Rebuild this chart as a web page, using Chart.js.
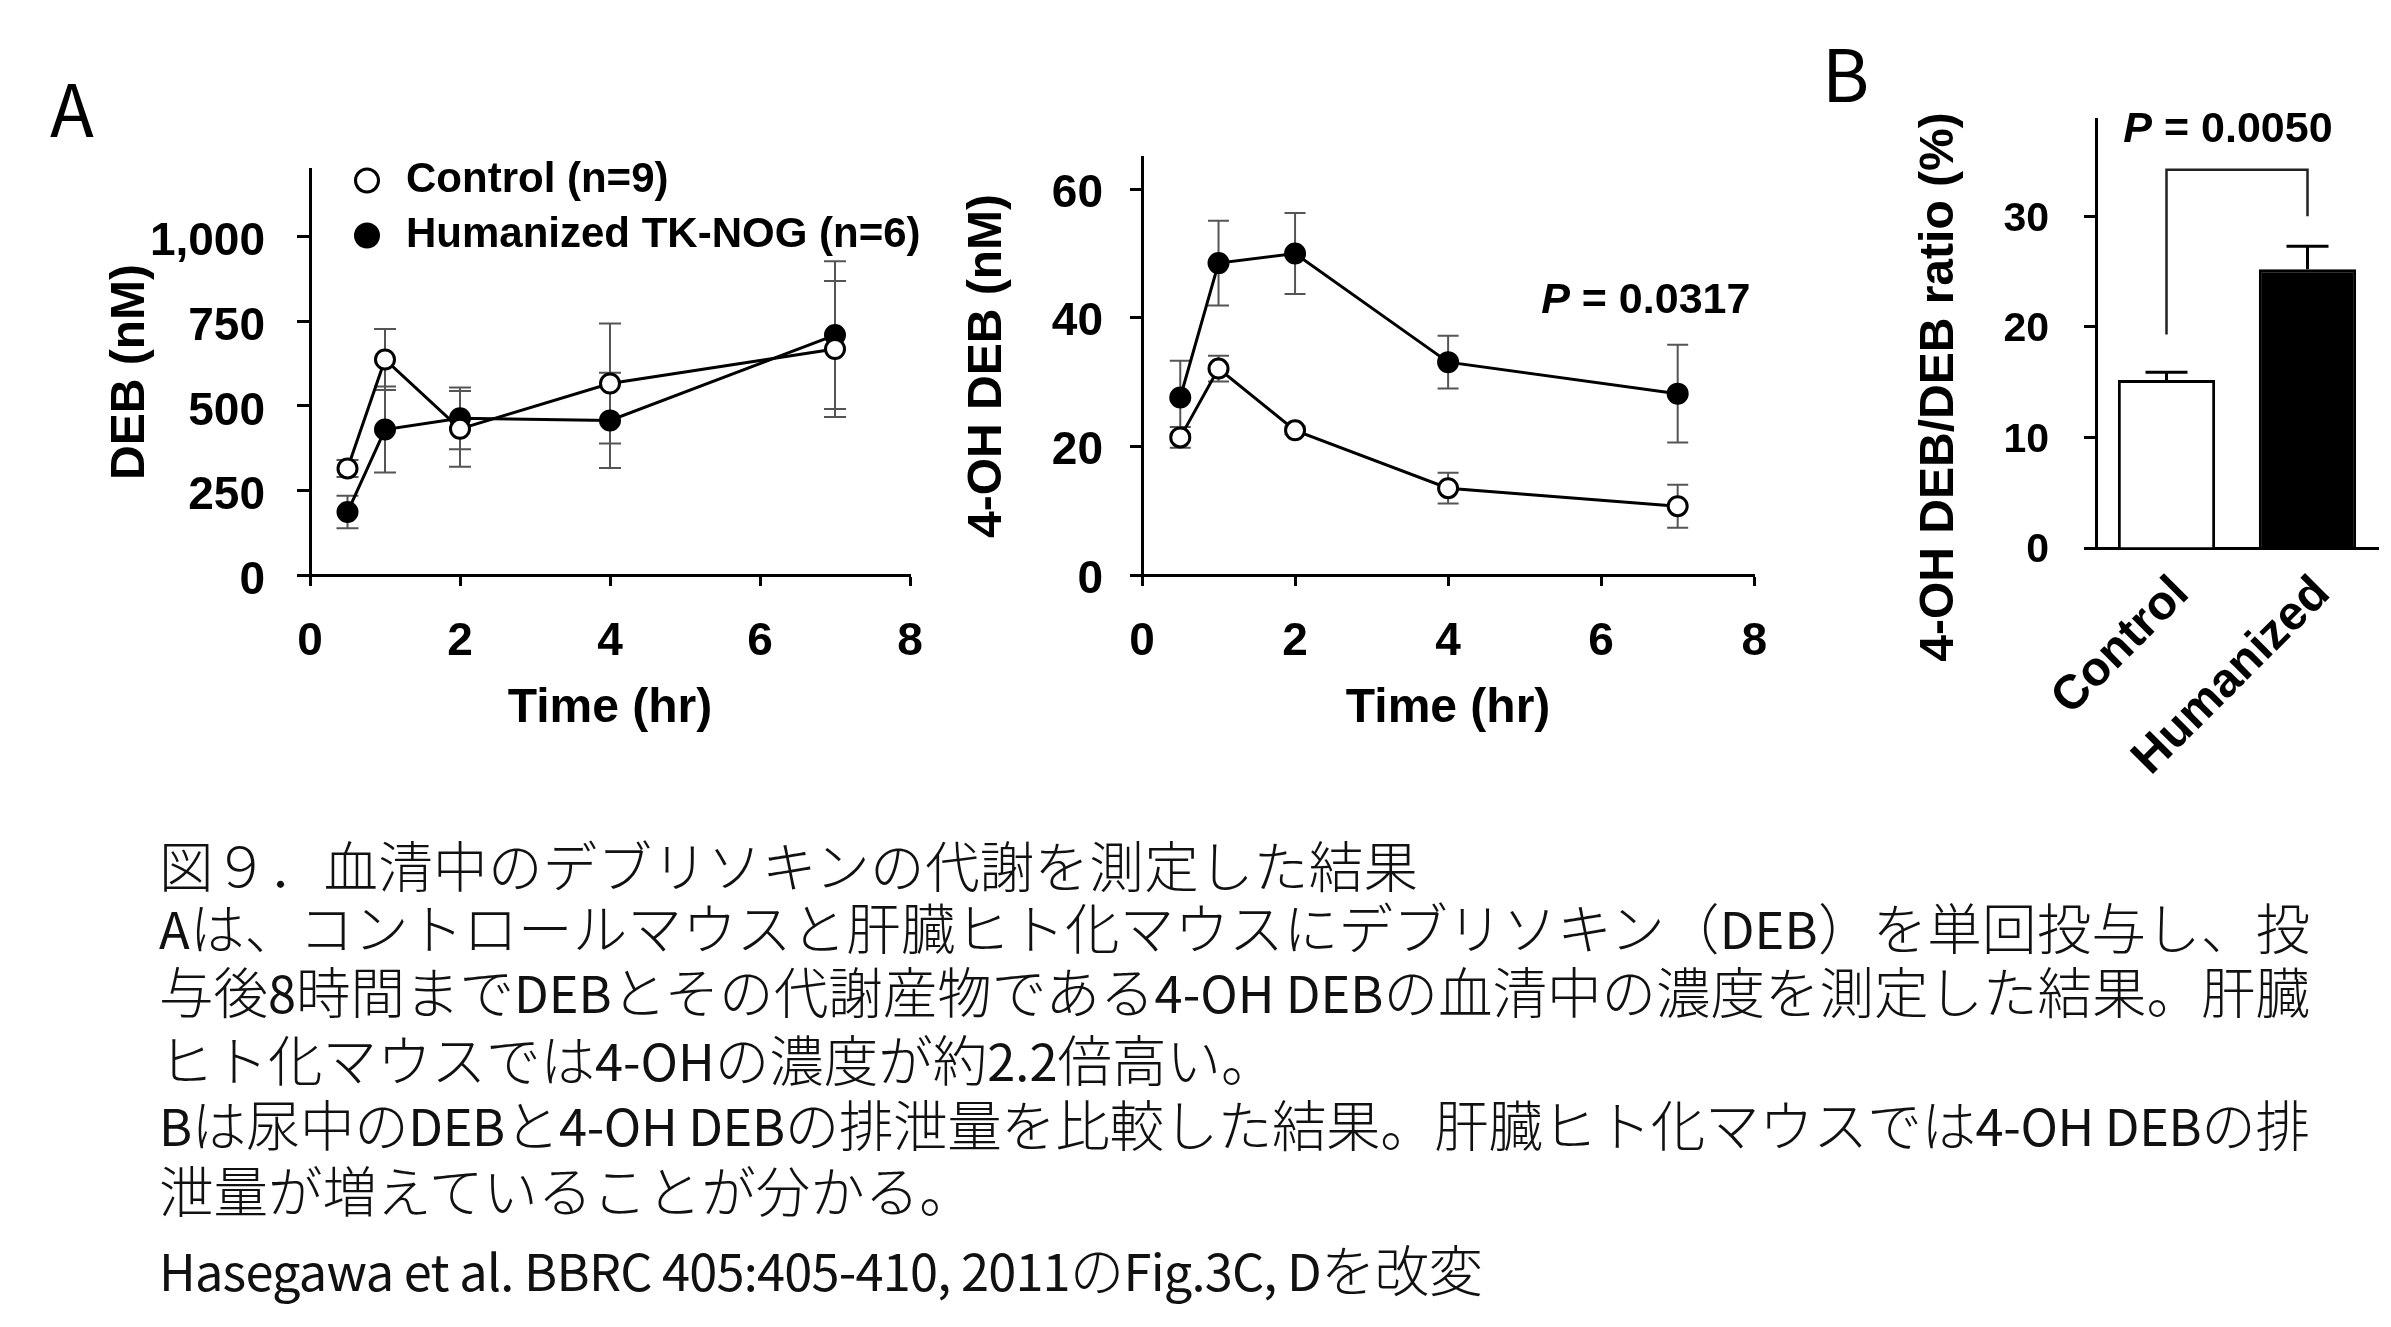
<!DOCTYPE html>
<html lang="ja">
<head>
<meta charset="utf-8">
<title>図9 血清中のデブリソキンの代謝</title>
<script src="https://cdn.jsdelivr.net/npm/chart.js@4.4.0/dist/chart.umd.min.js"></script>
<style>
html, body { margin:0; padding:0; background:#fff; }
body { width:2391px; height:1327px; position:relative; overflow:hidden; }
.panel { position:absolute; font-family:"Noto Sans CJK JP", sans-serif; font-size:72px; line-height:72px; color:#000; font-weight:400; }
.chartbox { position:absolute; }
.cap { position:absolute; left:159px; width:2220px; height:66px; line-height:66px; font-family:"Noto Sans CJK JP", sans-serif; font-size:54.5px; color:#111; white-space:nowrap; font-weight:300; }
.cap .lat { font-weight:400; font-size:50.5px; }
</style>
</head>
<body>
<div class="panel" style="left:50px; top:70px;">A</div>
<div class="panel" style="left:1822px; top:35px;">B</div>

<div class="chartbox" style="left:0px; top:90px; width:960px; height:690px;"><canvas id="c1" width="960" height="690"></canvas></div>
<div class="chartbox" style="left:940px; top:90px; width:860px; height:690px;"><canvas id="c2" width="860" height="690"></canvas></div>
<div class="chartbox" style="left:1870px; top:90px; width:521px; height:690px;"><canvas id="c3" width="521" height="690"></canvas></div>

<div class="cap" data-right="1418" style="top:831px;"><span>図９．血清中のデブリソキンの代謝を測定した結果</span></div>
<div class="cap" data-right="2310" style="top:893px;"><span>Aは、コントロールマウスと肝臓ヒト化マウスにデブリソキン（DEB）を単回投与し、投</span></div>
<div class="cap" data-right="2310" style="top:957px;"><span>与後8時間までDEBとその代謝産物である4-OH DEBの血清中の濃度を測定した結果。肝臓</span></div>
<div class="cap" style="top:1025px;"><span>ヒト化マウスでは4-OHの濃度が約2.2倍高い。</span></div>
<div class="cap" data-right="2310" style="top:1090px;"><span>Bは尿中のDEBと4-OH DEBの排泄量を比較した結果。肝臓ヒト化マウスでは4-OH DEBの排</span></div>
<div class="cap" style="top:1156px;"><span>泄量が増えていることが分かる。</span></div>
<div class="cap" data-right="1483" style="top:1235px;"><span>Hasegawa et al. BBRC 405:405-410, 2011のFig.3C, Dを改変</span></div>

<script>
// ---------------- data ----------------
const timePoints = [0.5, 1, 2, 4, 7];
const seriesLabels = ['Control (n=9)', 'Humanized TK-NOG (n=6)'];

const debControl = [315, 637, 432, 566, 668];
const debControlErr = [25, 90, 112, 177, 201];
const debHumanized = [186, 430, 463, 457, 709];
const debHumanizedErr = [48, 127, 91, 141, 218];

const ohControl = [21.4, 32.1, 22.5, 13.5, 10.7];
const ohControlErr = [1.6, 2.0, 0.6, 2.4, 3.35];
const ohHumanized = [27.6, 48.5, 50.0, 33.1, 28.2];
const ohHumanizedErr = [5.7, 6.6, 6.3, 4.1, 7.6];

const ratioCategories = ['Control', 'Humanized'];
const ratioValues = [15.2, 25.2];
const ratioErr = [0.7, 2.1];

const timeTicks = [0, 2, 4, 6, 8];
const debTicks = [0, 250, 500, 750, 1000];
const debTickLabels = ['0', '250', '500', '750', '1,000'];
const ohTicks = [0, 20, 40, 60];
const ratioTicks = [0, 10, 20, 30];

// ---------------- caption: Latin runs in regular weight, fit line widths ----------------
const CAPTION_LEFT = 159;
document.querySelectorAll('.cap span').forEach(sp => {
  const txt = sp.textContent;
  sp.textContent = '';
  txt.split(/([A-Za-z0-9.,:\- ]+)/).forEach(part => {
    if (!part) return;
    if (/^[A-Za-z0-9.,:\- ]+$/.test(part)) {
      const s = document.createElement('span'); s.className = 'lat'; s.textContent = part; sp.appendChild(s);
    } else {
      sp.appendChild(document.createTextNode(part));
    }
  });
});
document.querySelectorAll('.cap[data-right] > span').forEach(sp => {
  const target = parseFloat(sp.parentElement.dataset.right) - CAPTION_LEFT;
  const natural = sp.getBoundingClientRect().width;
  const n = [...sp.textContent].length;
  const ls = (target - natural) / (n - 1);
  sp.style.letterSpacing = ls + 'px';
});

// ---------------- chart setup ----------------
const FONT = '"Liberation Sans", Arial, Helvetica, sans-serif';
Chart.defaults.font.family = FONT;
Chart.defaults.font.weight = 'bold';
Chart.defaults.color = '#000';
Chart.defaults.animation = false;

const pts = (xs, ys) => xs.map((x, i) => ({ x, y: ys[i] }));

const openStyle = { borderColor: '#000', borderWidth: 3, pointRadius: 9.5, pointBorderWidth: 3,
  pointBackgroundColor: '#fff', pointBorderColor: '#000', tension: 0, fill: false };
const filledStyle = { borderColor: '#000', borderWidth: 3, pointRadius: 9.5, pointBorderWidth: 3,
  pointBackgroundColor: '#000', pointBorderColor: '#000', tension: 0, fill: false };

const errorBarPlugin = {
  id: 'errorBars',
  beforeDatasetsDraw(chart, args, o) {
    const ctx = chart.ctx;
    ctx.save();
    ctx.strokeStyle = o.color || '#000';
    ctx.lineWidth = o.width || 2;
    chart.data.datasets.forEach((ds, di) => {
      if (!ds.errors) return;
      const meta = chart.getDatasetMeta(di);
      const ys = chart.scales[meta.yAxisID];
      meta.data.forEach((el, i) => {
        const raw = ds.data[i];
        const v = typeof raw === 'number' ? raw : raw.y;
        const e = ds.errors[i];
        const x = el.x;
        const top = ys.getPixelForValue(v + e);
        const bot = o.upperOnly ? ys.getPixelForValue(v) : ys.getPixelForValue(v - e);
        ctx.beginPath();
        ctx.moveTo(x, bot); ctx.lineTo(x, top);
        ctx.moveTo(x - o.cap, top); ctx.lineTo(x + o.cap, top);
        if (!o.upperOnly) { ctx.moveTo(x - o.cap, bot); ctx.lineTo(x + o.cap, bot); }
        ctx.stroke();
      });
    });
    ctx.restore();
  }
};

const insideLegendPlugin = {
  id: 'insideLegend',
  afterDraw(chart, args, o) {
    if (!o || o.size == null) return;
    const { ctx, chartArea } = chart;
    ctx.save();
    chart.data.datasets.forEach((ds, i) => {
      const cx = chartArea.left + o.x, cy = chartArea.top + o.y + i * o.gap;
      ctx.beginPath();
      ctx.arc(cx, cy, o.radius, 0, Math.PI * 2);
      ctx.fillStyle = ds.pointBackgroundColor; ctx.fill();
      ctx.lineWidth = ds.pointBorderWidth; ctx.strokeStyle = ds.pointBorderColor; ctx.stroke();
      ctx.fillStyle = '#000';
      ctx.font = `bold ${o.size}px ${FONT}`;
      ctx.textAlign = 'left'; ctx.textBaseline = 'middle';
      ctx.fillText(ds.label, cx + o.textGap, cy + (o.textDy || 0));
    });
    ctx.restore();
  }
};

const pValuePlugin = {
  id: 'pValue',
  afterDraw(chart, args, o) {
    if (!o || !o.text) return;
    const { ctx } = chart;
    const x = chart.scales.x.getPixelForValue(o.x);
    const y = chart.scales.y.getPixelForValue(o.y);
    const fItal = `italic bold ${o.size}px ${FONT}`, fBold = `bold ${o.size}px ${FONT}`;
    ctx.save();
    ctx.fillStyle = '#000'; ctx.textBaseline = 'middle'; ctx.textAlign = 'left';
    ctx.font = fItal; const w1 = ctx.measureText('P').width;
    const rest = ' = ' + o.text;
    ctx.font = fBold; const w2 = ctx.measureText(rest).width;
    const total = w1 + w2;
    const x0 = o.align === 'right' ? x - total : (o.align === 'center' ? x - total / 2 : x);
    ctx.font = fItal; ctx.fillText('P', x0, y);
    ctx.font = fBold; ctx.fillText(rest, x0 + w1, y);
    ctx.restore();
  }
};

const bracketPlugin = {
  id: 'bracket',
  afterDatasetsDraw(chart, args, o) {
    if (!o || o.top == null) return;
    const { ctx } = chart;
    const xs = chart.scales.x, ys = chart.scales.y;
    const x1 = xs.getPixelForValue(o.from), x2 = xs.getPixelForValue(o.to);
    ctx.save();
    ctx.strokeStyle = o.color; ctx.lineWidth = o.width; ctx.lineJoin = 'miter';
    ctx.beginPath();
    ctx.moveTo(x1, ys.getPixelForValue(o.leftBottom));
    ctx.lineTo(x1, ys.getPixelForValue(o.top));
    ctx.lineTo(x2, ys.getPixelForValue(o.top));
    ctx.lineTo(x2, ys.getPixelForValue(o.rightBottom));
    ctx.stroke();
    ctx.restore();
  }
};

const sideTitlePlugin = {
  id: 'sideTitle',
  afterDraw(chart, args, o) {
    if (!o || !o.text) return;
    const { ctx, chartArea } = chart;
    ctx.save();
    ctx.translate(chartArea.left + o.dx, chartArea.bottom + o.dy);
    ctx.rotate(-Math.PI / 2);
    ctx.font = `bold ${o.size}px ${FONT}`;
    ctx.textAlign = 'center'; ctx.textBaseline = 'middle'; ctx.fillStyle = '#000';
    ctx.fillText(o.text, 0, 0);
    ctx.restore();
  }
};

const tickGrid = (len) => ({ display: true, drawOnChartArea: false, drawTicks: true,
  tickLength: len, tickWidth: 3, tickColor: '#000' });
const axisBorder = { display: true, color: '#000', width: 3 };
const fixWidth = w => s => { s.width = w; s.paddingTop = 0; s.paddingBottom = 0; };
const fixHeight = h => s => { s.height = h; };

// ---------- Chart A-1 : DEB ----------
new Chart(document.getElementById('c1'), {
  type: 'line',
  data: { datasets: [
    Object.assign({ label: seriesLabels[0], data: pts(timePoints, debControl), errors: debControlErr }, openStyle),
    Object.assign({ label: seriesLabels[1], data: pts(timePoints, debHumanized), errors: debHumanizedErr }, filledStyle)
  ]},
  options: {
    responsive: false, animation: false,
    layout: { padding: { left: 0, top: 79, right: 50, bottom: 0 } },
    plugins: {
      legend: { display: false }, tooltip: { enabled: false },
      errorBars: { color: '#555', width: 2, cap: 11 },
      insideLegend: { x: 57, y: 11.5, gap: 55, radius: 11.5, textGap: 39, size: 42, textDy: 0 }
    },
    scales: {
      x: {
        type: 'linear', min: 0, max: 8,
        afterBuildTicks: s => { s.ticks = timeTicks.map(v => ({ value: v })); },
        afterFit: fixHeight(205),
        grid: tickGrid(11), border: axisBorder,
        ticks: { font: { size: 46, weight: 'bold', lineHeight: 1 }, padding: 33, maxRotation: 0, color: '#000' },
        title: { display: true, text: 'Time (hr)', color: '#000',
          font: { size: 48, weight: 'bold', lineHeight: 1 }, padding: { top: 0, bottom: 47 } }
      },
      y: {
        type: 'linear', min: 0, max: 1200,
        afterBuildTicks: s => { s.ticks = debTicks.map(v => ({ value: v })); },
        afterFit: fixWidth(310),
        grid: tickGrid(13), border: axisBorder,
        ticks: { font: { size: 46, weight: 'bold', lineHeight: 1 }, padding: 32, labelOffset: 6, color: '#000',
          callback: v => debTickLabels[debTicks.indexOf(v)] },
        title: { display: true, text: 'DEB (nM)', color: '#000',
          font: { size: 48, weight: 'bold', lineHeight: 1 }, padding: { top: 107, bottom: 0 } }
      }
    }
  },
  plugins: [errorBarPlugin, insideLegendPlugin]
});

// ---------- Chart A-2 : 4-OH DEB ----------
new Chart(document.getElementById('c2'), {
  type: 'line',
  data: { datasets: [
    Object.assign({ label: seriesLabels[0], data: pts(timePoints, ohControl), errors: ohControlErr }, openStyle),
    Object.assign({ label: seriesLabels[1], data: pts(timePoints, ohHumanized), errors: ohHumanizedErr }, filledStyle)
  ]},
  options: {
    responsive: false, animation: false,
    layout: { padding: { left: 0, top: 67, right: 40, bottom: 0 } },
    plugins: {
      legend: { display: false }, tooltip: { enabled: false },
      errorBars: { color: '#555', width: 2, cap: 10.5 },
      pValue: { text: '0.0317', x: 7.95, y: 42.6, size: 43, align: 'right' }
    },
    scales: {
      x: {
        type: 'linear', min: 0, max: 8,
        afterBuildTicks: s => { s.ticks = timeTicks.map(v => ({ value: v })); },
        afterFit: fixHeight(205),
        grid: tickGrid(11), border: axisBorder,
        ticks: { font: { size: 46, weight: 'bold', lineHeight: 1 }, padding: 33, maxRotation: 0, color: '#000' },
        title: { display: true, text: 'Time (hr)', color: '#000',
          font: { size: 48, weight: 'bold', lineHeight: 1 }, padding: { top: 0, bottom: 47 } }
      },
      y: {
        type: 'linear', min: 0, max: 65,
        afterBuildTicks: s => { s.ticks = ohTicks.map(v => ({ value: v })); },
        afterFit: fixWidth(202),
        grid: tickGrid(12), border: axisBorder,
        ticks: { font: { size: 46, weight: 'bold', lineHeight: 1 }, padding: 27, labelOffset: 5, color: '#000' },
        title: { display: true, text: '4-OH DEB (nM)', color: '#000',
          font: { size: 48, weight: 'bold', lineHeight: 1 }, padding: { top: 24, bottom: 0 } }
      }
    }
  },
  plugins: [errorBarPlugin, pValuePlugin]
});

// ---------- Chart B : ratio ----------
new Chart(document.getElementById('c3'), {
  type: 'bar',
  data: {
    labels: ratioCategories,
    datasets: [{
      label: '4-OH DEB/DEB ratio (%)',
      data: ratioValues, errors: ratioErr,
      backgroundColor: ['#fff', '#000'], borderColor: '#000', borderWidth: 3,
      barPercentage: 0.69, categoryPercentage: 1
    }]
  },
  options: {
    responsive: false, animation: false,
    layout: { padding: { left: 0, top: 29, right: 13, bottom: 0 } },
    plugins: {
      legend: { display: false }, tooltip: { enabled: false },
      errorBars: { color: '#000', width: 3, cap: 21, upperOnly: true },
      bracket: { from: 0, to: 1, leftBottom: 19.3, top: 34.2, rightBottom: 30.0, color: '#222', width: 2.5 },
      pValue: { text: '0.0050', x: 0.436, y: 37.8, size: 43, align: 'center' },
      sideTitle: { text: '4-OH DEB/DEB ratio (%)', size: 48, dx: -156, dy: -161 }
    },
    scales: {
      x: {
        type: 'category',
        afterFit: fixHeight(232),
        grid: { display: false, drawTicks: false }, border: axisBorder,
        ticks: { font: { size: 48, weight: 'bold', lineHeight: 1 }, minRotation: 45, maxRotation: 45,
          padding: 21, labelOffset: 15, color: '#000' }
      },
      y: {
        type: 'linear', min: 0, max: 38.8,
        afterBuildTicks: s => { s.ticks = ratioTicks.map(v => ({ value: v })); },
        afterFit: fixWidth(226),
        grid: tickGrid(12), border: axisBorder,
        ticks: { font: { size: 41, weight: 'bold', lineHeight: 1 }, padding: 35, labelOffset: 3, color: '#000' }
      }
    }
  },
  plugins: [errorBarPlugin, bracketPlugin, pValuePlugin, sideTitlePlugin]
});
</script>
</body>
</html>
